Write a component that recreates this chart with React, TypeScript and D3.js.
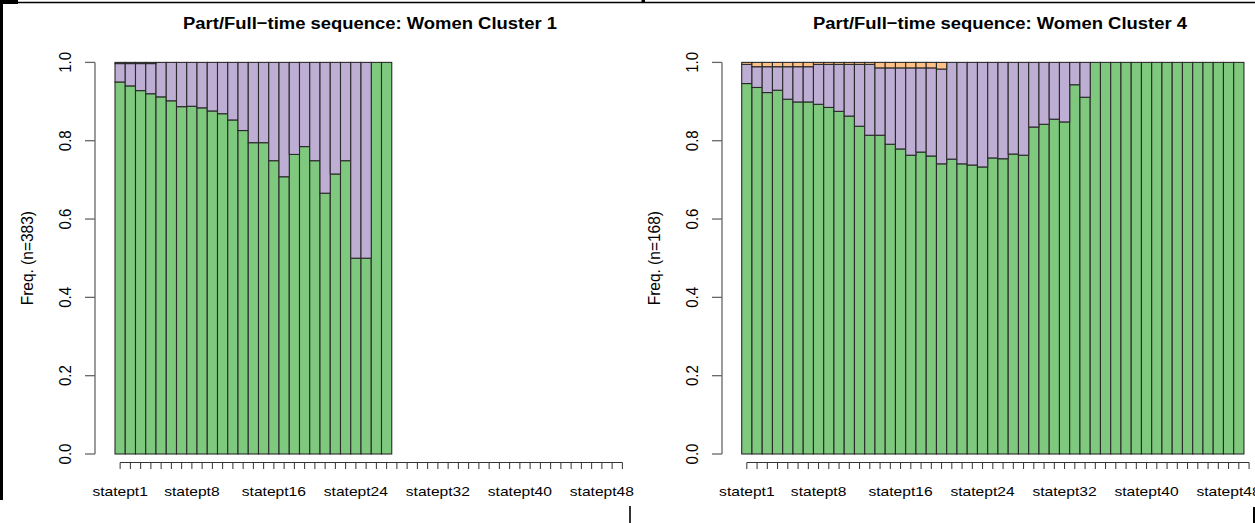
import React from 'react';
import * as d3 from 'd3';

// ---------- data ----------
const positions = d3.range(1, 51).map((i) => `statept${i}`);
const shownLabels = ['statept1', 'statept8', 'statept16', 'statept24', 'statept32', 'statept40', 'statept48'];
const yTicks = [0, 0.2, 0.4, 0.6, 0.8, 1.0];
const stateKeys = ['full', 'part', 'other'];
const stateColors = ['#7FC97F', '#BEAED4', '#FDC086'];

// Women Cluster 1 (n=383) — 27 observed positions
const c1Full = [0.950, 0.940, 0.928, 0.920, 0.912, 0.902, 0.887, 0.888, 0.884, 0.876, 0.869, 0.853, 0.826, 0.795, 0.795, 0.749, 0.708, 0.765, 0.785, 0.749, 0.666, 0.715, 0.749, 0.5, 0.5, 1.0, 1.0];
const c1Part = [0.047, 0.057, 0.069, 0.077, 0.088, 0.098, 0.113, 0.112, 0.116, 0.124, 0.131, 0.147, 0.174, 0.205, 0.205, 0.251, 0.292, 0.235, 0.215, 0.251, 0.334, 0.285, 0.251, 0.5, 0.5, 0, 0];
const c1Other = [0.003, 0.003, 0.003, 0.003, 0, 0, 0, 0, 0, 0, 0, 0, 0, 0, 0, 0, 0, 0, 0, 0, 0, 0, 0, 0, 0, 0, 0];

// Women Cluster 4 (n=168) — 49 observed positions
const c4Full = [0.946, 0.936, 0.923, 0.929, 0.906, 0.899, 0.899, 0.893, 0.885, 0.875, 0.863, 0.837, 0.814, 0.814, 0.791, 0.779, 0.763, 0.771, 0.761, 0.741, 0.753, 0.741, 0.738, 0.733, 0.756, 0.754, 0.766, 0.763, 0.835, 0.842, 0.855, 0.848, 0.943, 0.911, 1, 1, 1, 1, 1, 1, 1, 1, 1, 1, 1, 1, 1, 1, 1];
const c4Part = [0.049, 0.053, 0.066, 0.060, 0.083, 0.090, 0.090, 0.102, 0.110, 0.120, 0.132, 0.158, 0.181, 0.172, 0.195, 0.207, 0.223, 0.215, 0.225, 0.242, 0.247, 0.259, 0.262, 0.267, 0.244, 0.246, 0.234, 0.237, 0.165, 0.158, 0.145, 0.152, 0.057, 0.089, 0, 0, 0, 0, 0, 0, 0, 0, 0, 0, 0, 0, 0, 0, 0];
const c4Other = [0.005, 0.011, 0.011, 0.011, 0.011, 0.011, 0.011, 0.005, 0.005, 0.005, 0.005, 0.005, 0.005, 0.014, 0.014, 0.014, 0.014, 0.014, 0.014, 0.017, 0, 0, 0, 0, 0, 0, 0, 0, 0, 0, 0, 0, 0, 0, 0, 0, 0, 0, 0, 0, 0, 0, 0, 0, 0, 0, 0, 0, 0];

// ---------- chart ----------
const W = 1255;
const H = 523;
const FONT = '"Liberation Sans", Arial, Helvetica, sans-serif';

type PanelProps = {
  title: string;
  yLabel: string;
  full: number[];
  part: number[];
  other: number[];
  axisX: number;
  plotLeft: number;
  titleX: number;
};

function Panel({ title, yLabel, full, part, other, axisX, plotLeft, titleX }: PanelProps) {
  const band = 10.25;
  const x = d3.scaleBand<string>().domain(positions).range([plotLeft, plotLeft + band * positions.length]).padding(0);
  const y = d3.scaleLinear().domain([0, 1]).range([454, 62.4]);

  const rows = full.map((f, i) => ({ pos: positions[i], full: f, part: part[i], other: other[i] }));
  const stacked = d3.stack<any>().keys(stateKeys)(rows);

  const xAxisY = 462.5;
  const firstTick = x(positions[0])! + x.bandwidth() / 2;
  const lastTick = x(positions[positions.length - 1])! + x.bandwidth() / 2;

  return (
    <g>
      <text
        transform={`translate(${titleX},29.3) scale(1.085,1)`}
        textAnchor="middle"
        fontFamily={FONT}
        fontWeight="bold"
        fontSize={17}
        fill="#000"
      >
        {title}
      </text>

      {stacked.map((layer, li) => (
        <g key={layer.key}>
          {layer.map((d, i) => {
            const h = y(d[0]) - y(d[1]);
            if (h <= 0) return null;
            return (
              <rect
                key={i}
                x={x(rows[i].pos)}
                y={y(d[1])}
                width={x.bandwidth()}
                height={h}
                fill={stateColors[li]}
                stroke="#2a2a2a"
                strokeWidth={1.1}
              />
            );
          })}
        </g>
      ))}

      {/* y axis */}
      <line x1={axisX} x2={axisX} y1={y(0)} y2={y(1)} stroke="#666" strokeWidth={1.3} />
      {yTicks.map((t) => (
        <g key={t}>
          <line x1={axisX - 10} x2={axisX} y1={y(t)} y2={y(t)} stroke="#666" strokeWidth={1.3} />
          <text
            transform={`translate(${axisX - 24},${y(t)}) scale(1.05,1) rotate(-90)`}
            textAnchor="middle"
            fontFamily={FONT}
            fontSize={15}
            fill="#000"
          >
            {t.toFixed(1)}
          </text>
        </g>
      ))}
      <text
        transform={`translate(${axisX - 62},${(y(0) + y(1)) / 2}) scale(1.05,1) rotate(-90)`}
        textAnchor="middle"
        fontFamily={FONT}
        fontSize={15.5}
        fill="#000"
      >
        {yLabel}
      </text>

      {/* x axis */}
      <line x1={firstTick} x2={lastTick} y1={xAxisY} y2={xAxisY} stroke="#333" strokeWidth={1} />
      {positions.map((p) => {
        const cx = x(p)! + x.bandwidth() / 2;
        return <line key={p} x1={cx} x2={cx} y1={xAxisY} y2={xAxisY + 6.5} stroke="#333" strokeWidth={1} />;
      })}
      {shownLabels.map((p) => {
        const cx = x(p)! + x.bandwidth() / 2;
        return (
          <text
            key={p}
            transform={`translate(${cx},496) scale(1.25,1)`}
            textAnchor="middle"
            fontFamily={FONT}
            fontSize={12.5}
            fill="#000"
          >
            {p}
          </text>
        );
      })}
    </g>
  );
}

export default function App() {
  return (
    <svg
      width={W}
      height={H}
      viewBox={`0 0 ${W} ${H}`}
      style={{ position: 'absolute', left: 0, top: 0, background: '#fff' }}
    >
      <rect x={0} y={0} width={W} height={H} fill="#fff" />
      {/* frame fragments */}
      <line x1={0} x2={W} y1={2.5} y2={2.5} stroke="#000" strokeWidth={1.6} />
      <rect x={0} y={0} width={18} height={4} fill="#000" />
      <rect x={641.5} y={0} width={3.5} height={3} fill="#000" />
      <line x1={1.5} x2={1.5} y1={0} y2={500} stroke="#000" strokeWidth={3} />
      <line x1={630} x2={630} y1={506} y2={H} stroke="#000" strokeWidth={1.6} />
      <line x1={1254} x2={1254} y1={507} y2={H} stroke="#000" strokeWidth={2} />

      <Panel
        title="Part/Full−time sequence: Women Cluster 1"
        yLabel="Freq. (n=383)"
        full={c1Full}
        part={c1Part}
        other={c1Other}
        axisX={95}
        plotLeft={115}
        titleX={370}
      />
      <Panel
        title="Part/Full−time sequence: Women Cluster 4"
        yLabel="Freq. (n=168)"
        full={c4Full}
        part={c4Part}
        other={c4Other}
        axisX={722}
        plotLeft={741.7}
        titleX={1000}
      />
    </svg>
  );
}
